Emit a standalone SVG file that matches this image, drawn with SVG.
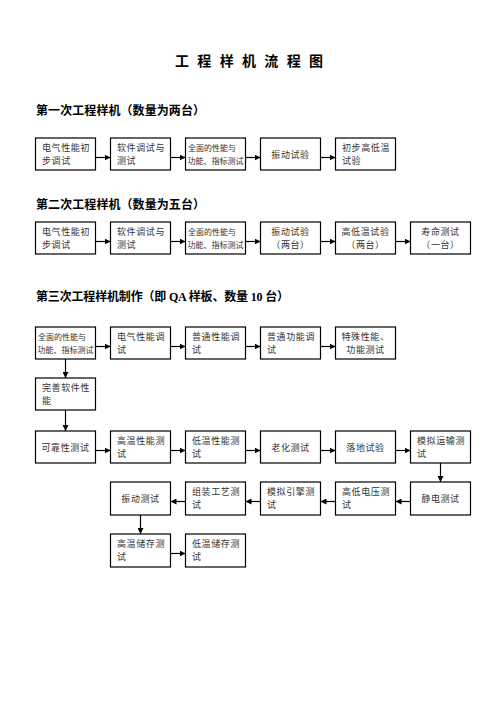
<svg xmlns="http://www.w3.org/2000/svg" width="496" height="702" viewBox="0 0 496 702">
<style>
.box{fill:#fff;stroke:#000;stroke-width:1.2}
.t{font-family:"Noto Sans CJK SC",sans-serif;font-size:9px;fill:#333;letter-spacing:0.6px}
.s{font-size:8px;letter-spacing:0}
.c{text-anchor:middle}
.h{font-family:"Liberation Serif","Noto Sans CJK SC",serif;font-weight:bold;font-size:12px;fill:#000}
.ttl{font-family:"Liberation Serif","Noto Sans CJK SC",serif;font-weight:bold;font-size:14px;fill:#000}
.conn line{stroke:#000;stroke-width:1.2;marker-end:url(#ah)}
</style>
<defs>
<marker id="ah" markerUnits="userSpaceOnUse" markerWidth="6" markerHeight="6" refX="6" refY="3" orient="auto"><path d="M0,0 L6,3 L0,6 z" fill="#000"/></marker>
</defs>
<rect width="496" height="702" fill="#fff"/>
<text class="ttl" x="175" y="66" textLength="148" lengthAdjust="spacing">工 程 样 机 流 程 图</text>
<text class="h" x="36" y="115" textLength="169" lengthAdjust="spacing">第一次工程样机（数量为两台）</text>
<text class="h" x="36" y="209" textLength="169" lengthAdjust="spacing">第二次工程样机（数量为五台）</text>
<text class="h" x="36" y="301" textLength="253" lengthAdjust="spacing">第三次工程样机制作（即 QA 样板、数量 10 台）</text>

<!-- Row 1 -->
<g id="r1n1"><rect class="box" x="35.5" y="138" width="60" height="32"/><text class="t" x="42" y="151">电气性能初</text><text class="t" x="42" y="164">步调试</text></g>
<g id="r1n2"><rect class="box" x="110.5" y="138" width="60" height="32"/><text class="t" x="117" y="151">软件调试与</text><text class="t" x="117" y="164">测试</text></g>
<g id="r1n3"><rect class="box" x="185.5" y="138" width="60" height="32"/><text class="t s" x="188" y="151">全面的性能与</text><text class="t s" x="187.5" y="164">功能、指标测试</text></g>
<g id="r1n4"><rect class="box" x="260.5" y="138" width="60" height="32"/><text class="t c" x="290.5" y="157.5">振动试验</text></g>
<g id="r1n5"><rect class="box" x="335.5" y="138" width="60" height="32"/><text class="t" x="342" y="151">初步高低温</text><text class="t" x="342" y="164">试验</text></g>

<!-- Row 2 -->
<g id="r2n1"><rect class="box" x="35.5" y="222" width="60" height="32"/><text class="t" x="42" y="235">电气性能初</text><text class="t" x="42" y="248">步调试</text></g>
<g id="r2n2"><rect class="box" x="110.5" y="222" width="60" height="32"/><text class="t" x="117" y="235">软件调试与</text><text class="t" x="117" y="248">测试</text></g>
<g id="r2n3"><rect class="box" x="185.5" y="222" width="60" height="32"/><text class="t s" x="188" y="235">全面的性能与</text><text class="t s" x="187.5" y="248">功能、指标测试</text></g>
<g id="r2n4"><rect class="box" x="260.5" y="222" width="60" height="32"/><text class="t c" x="290.5" y="235">振动试验</text><text class="t c" x="290.5" y="248">（两台）</text></g>
<g id="r2n5"><rect class="box" x="335.5" y="222" width="60" height="32"/><text class="t c" x="365.5" y="235">高低温试验</text><text class="t c" x="365.5" y="248">（两台）</text></g>
<g id="r2n6"><rect class="box" x="410.5" y="222" width="60" height="32"/><text class="t c" x="440.5" y="235">寿命测试</text><text class="t c" x="440.5" y="248">（一台）</text></g>

<!-- Row 3 -->
<g id="r3n1"><rect class="box" x="35.5" y="327" width="60" height="32"/><text class="t s" x="38" y="340">全面的性能与</text><text class="t s" x="37.5" y="353">功能、指标测试</text></g>
<g id="r3n2"><rect class="box" x="110.5" y="327" width="60" height="32"/><text class="t" x="117" y="340">电气性能调</text><text class="t" x="117" y="353">试</text></g>
<g id="r3n3"><rect class="box" x="185.5" y="327" width="60" height="32"/><text class="t" x="192" y="340">普通性能调</text><text class="t" x="192" y="353">试</text></g>
<g id="r3n4"><rect class="box" x="260.5" y="327" width="60" height="32"/><text class="t" x="267" y="340">普通功能调</text><text class="t" x="267" y="353">试</text></g>
<g id="r3n5"><rect class="box" x="335.5" y="327" width="60" height="32"/><text class="t c" x="365.5" y="340">特殊性能、</text><text class="t c" x="365.5" y="353">功能测试</text></g>
<g id="r3n6"><rect class="box" x="35.5" y="378" width="60" height="32"/><text class="t" x="42" y="391">完善软件性</text><text class="t" x="42" y="404">能</text></g>

<!-- Row 4 -->
<g id="r4n1"><rect class="box" x="35.5" y="431" width="60" height="32"/><text class="t c" x="65.5" y="450.5">可靠性测试</text></g>
<g id="r4n2"><rect class="box" x="110.5" y="431" width="60" height="32"/><text class="t" x="117" y="444">高温性能测</text><text class="t" x="117" y="457">试</text></g>
<g id="r4n3"><rect class="box" x="185.5" y="431" width="60" height="32"/><text class="t" x="192" y="444">低温性能测</text><text class="t" x="192" y="457">试</text></g>
<g id="r4n4"><rect class="box" x="260.5" y="431" width="60" height="32"/><text class="t c" x="290.5" y="450.5">老化测试</text></g>
<g id="r4n5"><rect class="box" x="335.5" y="431" width="60" height="32"/><text class="t c" x="365.5" y="450.5">落地试验</text></g>
<g id="r4n6"><rect class="box" x="410.5" y="431" width="60" height="32"/><text class="t" x="417" y="444">模拟运输测</text><text class="t" x="417" y="457">试</text></g>

<!-- Row 5 -->
<g id="r5n1"><rect class="box" x="110.5" y="482" width="60" height="33"/><text class="t c" x="140.5" y="501.5">振动测试</text></g>
<g id="r5n2"><rect class="box" x="185.5" y="482" width="60" height="33"/><text class="t" x="192" y="495">组装工艺测</text><text class="t" x="192" y="508">试</text></g>
<g id="r5n3"><rect class="box" x="260.5" y="482" width="60" height="33"/><text class="t" x="267" y="495">模拟引擎测</text><text class="t" x="267" y="508">试</text></g>
<g id="r5n4"><rect class="box" x="335.5" y="482" width="60" height="33"/><text class="t" x="342" y="495">高低电压测</text><text class="t" x="342" y="508">试</text></g>
<g id="r5n5"><rect class="box" x="410.5" y="482" width="60" height="33"/><text class="t c" x="440.5" y="501.5">静电测试</text></g>

<!-- Row 6 -->
<g id="r6n1"><rect class="box" x="110.5" y="534" width="60" height="33"/><text class="t" x="117" y="547">高温储存测</text><text class="t" x="117" y="560">试</text></g>
<g id="r6n2"><rect class="box" x="185.5" y="534" width="60" height="33"/><text class="t" x="192" y="547">低温储存测</text><text class="t" x="192" y="560">试</text></g>

<g id="connectors" class="conn">
<line x1="95.5" y1="157.5" x2="110.5" y2="157.5"/>
<line x1="170.5" y1="157.5" x2="185.5" y2="157.5"/>
<line x1="245.5" y1="157.5" x2="260.5" y2="157.5"/>
<line x1="320.5" y1="157.5" x2="335.5" y2="157.5"/>

<line x1="95.5" y1="241.5" x2="110.5" y2="241.5"/>
<line x1="170.5" y1="241.5" x2="185.5" y2="241.5"/>
<line x1="245.5" y1="241.5" x2="260.5" y2="241.5"/>
<line x1="320.5" y1="241.5" x2="335.5" y2="241.5"/>
<line x1="395.5" y1="241.5" x2="410.5" y2="241.5"/>

<line x1="95.5" y1="346.5" x2="110.5" y2="346.5"/>
<line x1="170.5" y1="346.5" x2="185.5" y2="346.5"/>
<line x1="245.5" y1="346.5" x2="260.5" y2="346.5"/>
<line x1="320.5" y1="346.5" x2="335.5" y2="346.5"/>
<line x1="65.5" y1="359" x2="65.5" y2="378"/>
<line x1="65.5" y1="410" x2="65.5" y2="431"/>

<line x1="95.5" y1="450.5" x2="110.5" y2="450.5"/>
<line x1="170.5" y1="450.5" x2="185.5" y2="450.5"/>
<line x1="245.5" y1="450.5" x2="260.5" y2="450.5"/>
<line x1="320.5" y1="450.5" x2="335.5" y2="450.5"/>
<line x1="395.5" y1="450.5" x2="410.5" y2="450.5"/>
<line x1="440.5" y1="463" x2="440.5" y2="482"/>

<line x1="410.5" y1="501.5" x2="395.5" y2="501.5"/>
<line x1="335.5" y1="501.5" x2="320.5" y2="501.5"/>
<line x1="260.5" y1="501.5" x2="245.5" y2="501.5"/>
<line x1="185.5" y1="501.5" x2="170.5" y2="501.5"/>
<line x1="140.5" y1="515" x2="140.5" y2="534"/>

<line x1="170.5" y1="553.5" x2="185.5" y2="553.5"/>
</g>
</svg>
